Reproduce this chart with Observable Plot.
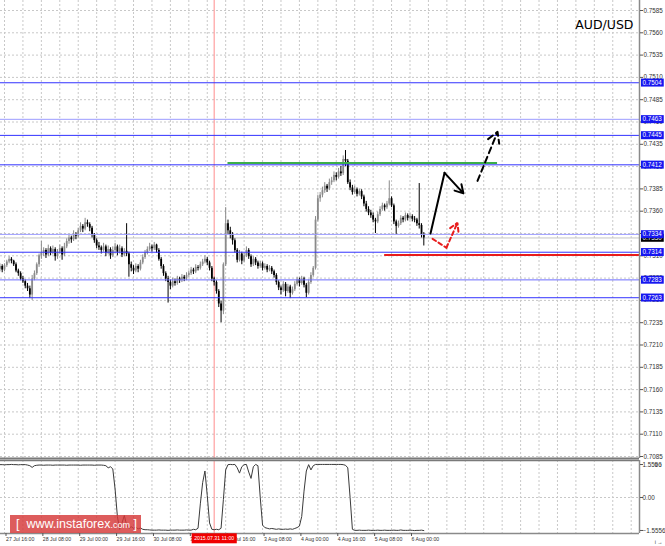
<!DOCTYPE html>
<html><head><meta charset="utf-8">
<script src="https://cdn.jsdelivr.net/npm/d3@7"></script>
<script src="https://cdn.jsdelivr.net/npm/@observablehq/plot@0.6"></script>
<style>
body{margin:0;background:#fff;}
#chart{position:relative;width:665px;height:546px;overflow:hidden;background:#fff;font-family:"Liberation Sans",Arial,sans-serif}
#chart svg{display:block}
#wm{position:absolute;left:10px;top:515px;width:131px;height:18px;background:rgba(214,56,56,0.82);color:#fff;
font-family:"Liberation Sans",Arial,sans-serif;font-size:12.5px;line-height:18px;white-space:nowrap;padding-left:6px;box-sizing:border-box}
#wm .com{font-size:9px}
#wm .br{font-weight:300}
</style>
</head><body>
<div id="chart"><div id="wm"><span class="br">[</span>&nbsp; www.instaforex<span class="com">.com</span> <span class="br">]</span></div></div>
<script>
// ---------- DATA (prices in 1/10000, H1 bars; bar index 0 = 27 Jul 16:00) ----------
const firstBar = -2;
const O = [7295,7298,7294,7299,7303,7306,7304,7300,7293,7290,
7284,7281,7276,7273,7266,7284,7290,7300,7310,7313,
7316,7311,7318,7313,7317,7309,7314,7318,7311,7320,
7326,7330,7328,7334,7332,7338,7343,7340,7347,7345,
7341,7333,7327,7321,7319,7316,7320,7313,7317,7310,
7316,7320,7314,7318,7311,7315,7312,7300,7296,7293,
7298,7295,7302,7308,7313,7317,7320,7318,7322,7316,
7306,7298,7290,7284,7280,7276,7281,7279,7284,7282,
7286,7284,7288,7290,7294,7292,7297,7296,7300,7303,
7306,7302,7296,7284,7280,7270,7256,7248,7300,7346,
7338,7333,7327,7316,7305,7312,7304,7310,7316,7309,
7300,7306,7302,7298,7301,7296,7298,7294,7296,7292,
7288,7280,7274,7271,7278,7270,7275,7268,7272,7278,
7283,7279,7284,7277,7268,7280,7288,7296,7350,7374,
7378,7383,7388,7385,7392,7394,7400,7398,7404,7402,
7418,7416,7392,7386,7381,7384,7379,7382,7376,7368,
7362,7358,7355,7350,7348,7356,7362,7366,7364,7368,
7374,7366,7348,7343,7346,7352,7350,7355,7352,7354,
7351,7350,7346,7344,7334];
const H = [7301,7300,7301,7305,7309,7308,7305,7302,7295,7292,
7287,7283,7279,7276,7288,7293,7302,7312,7326,7319,
7318,7322,7320,7321,7319,7317,7322,7320,7324,7329,
7333,7332,7338,7336,7341,7347,7345,7352,7350,7347,
7343,7335,7329,7325,7321,7324,7322,7321,7319,7320,
7324,7322,7322,7320,7318,7346,7314,7303,7299,7301,
7300,7305,7311,7316,7320,7324,7322,7325,7323,7318,
7308,7300,7292,7287,7283,7285,7284,7287,7286,7289,
7288,7291,7293,7297,7296,7300,7299,7303,7306,7310,
7308,7304,7298,7286,7282,7272,7259,7302,7364,7350,
7342,7336,7329,7318,7316,7314,7313,7320,7318,7311,
7309,7308,7304,7304,7303,7301,7300,7299,7298,7294,
7290,7282,7276,7281,7280,7278,7277,7275,7281,7286,
7285,7287,7286,7279,7283,7291,7298,7354,7378,7381,
7387,7392,7390,7396,7398,7404,7403,7408,7410,7422,
7428,7418,7395,7389,7388,7386,7385,7384,7378,7371,
7365,7361,7358,7352,7359,7365,7369,7368,7371,7394,
7376,7368,7350,7349,7355,7354,7358,7357,7357,7356,
7354,7352,7391,7346,7336];
const L = [7292,7291,7292,7297,7301,7301,7298,7291,7287,7282,
7279,7273,7270,7262,7260,7282,7288,7297,7306,7309,
7307,7309,7310,7311,7304,7306,7312,7305,7309,7318,
7323,7324,7326,7328,7330,7336,7336,7338,7342,7337,
7330,7324,7318,7316,7312,7314,7309,7311,7306,7308,
7313,7310,7312,7308,7309,7309,7286,7292,7289,7291,
7291,7293,7300,7306,7311,7315,7314,7316,7313,7304,
7295,7287,7281,7257,7272,7274,7276,7277,7279,7280,
7281,7282,7286,7288,7289,7290,7293,7294,7298,7301,
7299,7293,7281,7276,7267,7252,7235,7244,7298,7334,
7329,7322,7313,7302,7303,7300,7302,7308,7306,7297,
7298,7299,7295,7296,7293,7294,7291,7292,7289,7285,
7277,7271,7266,7269,7264,7268,7262,7266,7270,7276,
7275,7277,7274,7263,7266,7278,7286,7294,7348,7370,
7375,7380,7381,7383,7389,7392,7394,7396,7399,7400,
7410,7390,7383,7378,7379,7376,7377,7373,7365,7359,
7355,7352,7347,7335,7346,7354,7360,7360,7362,7366,
7364,7345,7334,7341,7344,7347,7348,7349,7350,7348,
7347,7343,7340,7330,7321];
const C = [7298,7294,7299,7303,7306,7304,7300,7293,7290,7284,
7281,7276,7273,7266,7284,7290,7300,7310,7313,7316,
7311,7318,7313,7317,7309,7314,7318,7311,7320,7326,
7330,7328,7334,7332,7338,7343,7340,7347,7345,7341,
7333,7327,7321,7319,7316,7320,7313,7317,7310,7316,
7320,7314,7318,7311,7315,7312,7300,7296,7293,7298,
7295,7302,7308,7313,7317,7320,7318,7322,7316,7306,
7298,7290,7284,7280,7276,7281,7279,7284,7282,7286,
7284,7288,7290,7294,7292,7297,7296,7300,7303,7306,
7302,7296,7284,7280,7270,7256,7248,7300,7346,7338,
7333,7327,7316,7305,7312,7304,7310,7316,7309,7300,
7306,7302,7298,7301,7296,7298,7294,7296,7292,7288,
7280,7274,7271,7278,7270,7275,7268,7272,7278,7283,
7279,7284,7277,7268,7280,7288,7296,7350,7374,7378,
7383,7388,7385,7392,7394,7400,7398,7404,7402,7418,
7416,7392,7386,7381,7384,7379,7382,7376,7368,7362,
7358,7355,7350,7348,7356,7362,7366,7364,7368,7374,
7366,7348,7343,7346,7352,7350,7355,7352,7354,7351,
7350,7346,7344,7334,7330];
// oscillator in lower pane
const osc = [1.55,1.55,1.54,1.55,1.55,1.56,1.55,1.55,1.54,1.55,
1.55,1.55,1.53,1.50,1.42,1.50,1.52,1.53,1.53,1.52,
1.53,1.53,1.53,1.52,1.53,1.53,1.53,1.53,1.53,1.52,
1.53,1.53,1.53,1.53,1.53,1.52,1.53,1.53,1.53,1.53,
1.53,1.52,1.53,1.53,1.53,1.52,1.50,1.40,1.45,1.35,
0.40,-0.90,-1.50,-1.20,-0.85,-1.30,-1.45,-1.38,-1.45,-1.40,
-1.48,-1.44,-1.50,-1.52,-1.52,-1.53,-1.54,-1.54,-1.54,-1.53,
-1.54,-1.54,-1.54,-1.55,-1.54,-1.54,-1.54,-1.53,-1.54,-1.54,
-1.54,-1.53,-1.54,-1.54,-1.50,-1.52,-1.45,-0.30,0.70,1.25,
0.10,-1.20,-1.50,-1.52,-1.50,-1.52,-1.45,-0.10,1.30,1.55,
1.56,1.55,1.56,1.40,1.15,1.45,1.55,1.56,1.20,0.90,
1.45,1.56,1.50,0.00,-1.30,-1.42,-1.45,-1.48,-1.46,-1.48,
-1.50,-1.48,-1.50,-1.50,-1.49,-1.50,-1.48,-1.50,-1.46,-1.42,
-1.35,-0.90,0.30,1.25,1.55,1.30,1.50,1.56,1.56,1.56,
1.56,1.56,1.56,1.56,1.56,1.56,1.56,1.56,1.56,1.55,
1.52,1.40,0.00,-1.50,-1.55,-1.55,-1.54,-1.55,-1.55,-1.55,
-1.54,-1.55,-1.55,-1.55,-1.54,-1.55,-1.55,-1.54,-1.55,-1.55,
-1.55,-1.54,-1.55,-1.55,-1.53,-1.55,-1.55,-1.55,-1.54,-1.55,
-1.56,-1.55,-1.55,-1.54,-1.56];
const levels = [0.7504, 0.7463, 0.7445, 0.7412, 0.7334, 0.7314, 0.7283, 0.7263];
const lastPrice = 0.7330;
const priceTicks = [0.7085,0.7110,0.7135,0.7160,0.7185,0.7210,0.7235,0.7260,0.7285,0.7310,0.7335,0.7360,0.7385,0.7410,0.7435,0.7460,0.7485,0.7510,0.7535,0.7560,0.7585];
const oscTicks = [1.5556, 0, -1.5556];
const labelBars = [0,16,32,48,64,80,96,112,128,144,160,176];
const timeLabels = ["27 Jul 16:00","28 Jul 08:00","29 Jul 00:00","29 Jul 16:00","30 Jul 08:00","31 Jul 00:00","31 Jul 16:00","3 Aug 08:00","4 Aug 00:00","4 Aug 16:00","5 Aug 08:00","6 Aug 00:00"];
const markedBar = 91, markedLabel = "2015.07.31 11:00";
const greenLevel = {price: 0.7414, from: 97, to: 214};
const redLevel = {price: 0.7311, from: 165};
const blackPath = [{i:184.9, p:0.7335},{i:191.0, p:0.7403}];
const blackHead = [{x1:191.0, y1:0.7403, x2:199.2, y2:0.7380}];
const dashHead = [{x1:205.3, y1:0.7394, x2:214.0, y2:0.7449}];
const redPath = [{i:185.8, p:0.7329},{i:191.8, p:0.7319}];
const redHead = [{x1:191.8, y1:0.7319, x2:196.6, y2:0.7347}];
const title = "AUD/USD";

// ---------- LAYOUT ----------
const W = 665, PLOT_R = 639, PX_PER_BAR = 2.304, BAR0_PX = 4;
const xDomain = [-BAR0_PX / PX_PER_BAR, (PLOT_R - BAR0_PX) / PX_PER_BAR];
const yTopPx = 10, pxPer25 = 22.3; // price 0.7585 at y=10, 22.3px per 0.0025
const pricePerPx = 0.0025 / pxPer25;
const mainH = 459;
const yDomain = [0.7585 - (mainH - 1 - yTopPx) * pricePerPx, 0.7585 + yTopPx * pricePerPx];
const oscDomain = [-1.698, 1.745];
const gridBars = d3.range(0, 280, 8);
const lightLevels = new Map([[0.7463, "#9c9cff"], [0.7334, "#9c9cff"], [0.7283, "#6e6eff"]]);
const bull = "#8a8a8a", bear = "#000000";
const font = "Liberation Sans, Arial, sans-serif";
const axisFont = 6.3, timeFont = 5.2;

const candles = C.map((c, k) => ({i: k + firstBar, o: O[k] / 1e4, h: H[k] / 1e4, l: L[k] / 1e4, c: c / 1e4}));
const oscData = osc.map((v, k) => ({i: k + firstBar, v}));
const lbl = new Map(labelBars.map((b, k) => [b, timeLabels[k]]));
const fmt4 = d3.format(".4f");

const main = Plot.plot({
  width: W, height: mainH, marginTop: 0, marginBottom: 1, marginLeft: 0, marginRight: W - PLOT_R,
  x: {domain: xDomain, axis: null},
  y: {domain: yDomain},
  color: {type: "identity"},
  style: {fontFamily: font, fontSize: axisFont + "px", background: "transparent", overflow: "visible"},
  marks: [
    Plot.ruleX(gridBars, {stroke: "#c8c8c8", strokeDasharray: "2,2"}),
    Plot.ruleY(priceTicks, {stroke: "#c8c8c8", strokeDasharray: "2,2"}),
    Plot.ruleX([markedBar], {stroke: "#ff8c8c"}),
    Plot.ruleY([lastPrice], {stroke: "#c4c4c4"}),
    Plot.ruleX(candles, {x: "i", y1: "l", y2: "h", stroke: d => d.c >= d.o ? bull : bear, strokeWidth: 1}),
    Plot.ruleX(candles, {x: "i", y1: "o", y2: "c", stroke: d => d.c >= d.o ? bull : bear, strokeWidth: 1.8}),
    Plot.ruleY(levels, {stroke: d => lightLevels.get(d) || "#3232ff", strokeWidth: 1}),
    Plot.ruleY([greenLevel], {y: "price", x1: "from", x2: "to", stroke: "#3cae4a", strokeWidth: 2}),
    Plot.ruleY([redLevel], {y: "price", x1: "from", x2: () => xDomain[1], stroke: "#e81c1c", strokeWidth: 2}),
    Plot.line(blackPath, {x: "i", y: "p", stroke: "#000", strokeWidth: 2}),
    Plot.arrow(blackHead, {x1: "x1", y1: "y1", x2: "x2", y2: "y2", stroke: "#000", strokeWidth: 2, headLength: 9}),
    Plot.arrow(dashHead, {x1: "x1", y1: "y1", x2: "x2", y2: "y2", stroke: "#000", strokeWidth: 2, headLength: 9, strokeDasharray: "6,4"}),
    Plot.line(redPath, {x: "i", y: "p", stroke: "#e81c1c", strokeWidth: 2, strokeDasharray: "4,3"}),
    Plot.arrow(redHead, {x1: "x1", y1: "y1", x2: "x2", y2: "y2", stroke: "#e81c1c", strokeWidth: 2, headLength: 8, strokeDasharray: "4,3"}),
    Plot.ruleY([yDomain[0]], {stroke: "#7a7a7a", strokeWidth: 2}),
    Plot.ruleX([xDomain[1]], {stroke: "#8a8a8a", strokeWidth: 1.5}),
    Plot.axisY(priceTicks, {anchor: "right", tickFormat: fmt4, tickSize: 3, tickPadding: 1, fontSize: axisFont, stroke: "#555", fill: "#333"}),
    Plot.text([lastPrice], {y: d => d, frameAnchor: "right", dx: 3, textAnchor: "start", text: d => fmt4(d), fill: "white", fontSize: axisFont, ariaDescription: "cur"}),
    Plot.text(levels, {y: d => d, frameAnchor: "right", dx: 3, textAnchor: "start", text: d => fmt4(d), fill: "white", fontSize: axisFont, ariaDescription: "lvl"}),
    Plot.text([title], {frameAnchor: "top-right", dx: -6, dy: 20, textAnchor: "end", fontSize: 12.5, fontFamily: "DejaVu Sans, sans-serif", fill: "#000"})
  ]
});

const lower = Plot.plot({
  width: W, height: 546 - mainH, marginTop: 1, marginBottom: 13, marginLeft: 0, marginRight: W - PLOT_R,
  x: {domain: xDomain},
  y: {domain: oscDomain},
  style: {fontFamily: font, fontSize: axisFont + "px", background: "transparent", overflow: "visible"},
  marks: [
    Plot.ruleX(gridBars, {stroke: "#c8c8c8", strokeDasharray: "2,2"}),
    Plot.ruleY([0], {stroke: "#c8c8c8", strokeDasharray: "2,2"}),
    Plot.ruleX([markedBar], {stroke: "#ff8c8c"}),
    Plot.line(oscData, {x: "i", y: "v", stroke: "#3a3a3a", strokeWidth: 1}),
    Plot.ruleY([oscDomain[1]], {stroke: "#7a7a7a", strokeWidth: 1.5}),
    Plot.ruleY([oscDomain[0]], {stroke: "#8a8a8a", strokeWidth: 1.5}),
    Plot.ruleX([xDomain[1]], {stroke: "#8a8a8a", strokeWidth: 1.5}),
    Plot.axisY(oscTicks, {anchor: "right", tickFormat: d => d === 0 ? "0.00" : fmt4(d), tickSize: 3, tickPadding: 0, fontSize: axisFont, stroke: "#555", fill: "#333"}),
    Plot.axisX(labelBars, {anchor: "bottom", tickFormat: d => lbl.get(d), textAnchor: "start", dx: 1.5, tickSize: 3, tickPadding: 1, fontSize: timeFont, stroke: "#555", fill: "#333"}),
    Plot.text([markedBar], {x: d => d, frameAnchor: "bottom", dy: 6.5, text: () => markedLabel, fill: "white", fontSize: timeFont, ariaDescription: "tl"})
  ]
});

const chart = document.getElementById("chart");
chart.insertBefore(lower, chart.firstChild);
chart.insertBefore(main, chart.firstChild);

function boxes(svg, desc, fill, padX, padY) {
  svg.querySelectorAll(`g[aria-description="${desc}"] text`).forEach(t => {
    const b = t.getBBox();
    const r = document.createElementNS("http://www.w3.org/2000/svg", "rect");
    r.setAttribute("x", b.x - padX);
    r.setAttribute("y", b.y - padY + 0.3);
    r.setAttribute("width", b.width + 2 * padX);
    r.setAttribute("height", b.height + 2 * padY);
    r.setAttribute("fill", fill);
    const tr = t.getAttribute("transform");
    if (tr) r.setAttribute("transform", tr);
    t.parentNode.insertBefore(r, t);
  });
}
boxes(main, "cur", "#000", 1.5, 0.5);
boxes(main, "lvl", "#1616f0", 1.5, 0.5);
boxes(lower, "tl", "#f00000", 2.5, 2);
</script>
</body></html>
